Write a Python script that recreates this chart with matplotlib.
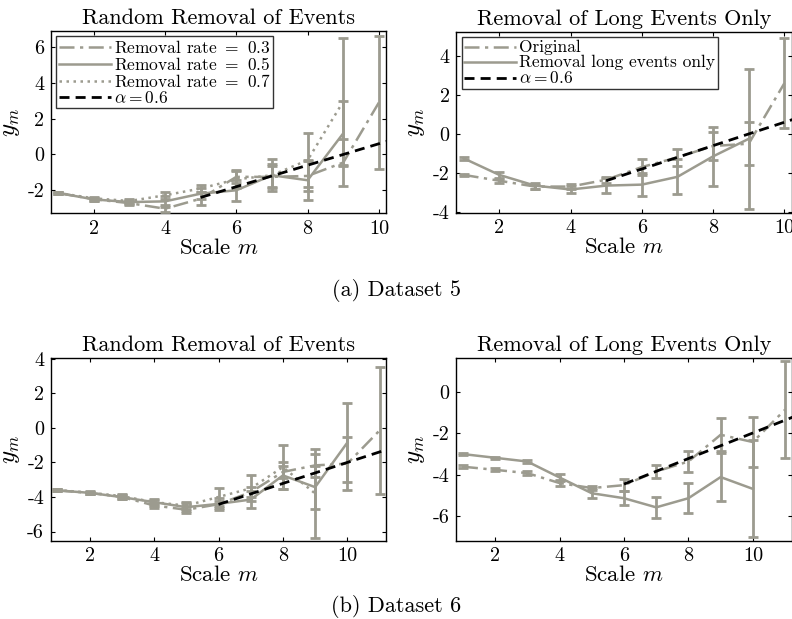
import matplotlib
matplotlib.use("Agg")
import matplotlib.pyplot as plt
import numpy as np

plt.rcParams['font.family'] = ['cmr10', 'DejaVu Serif']
plt.rcParams['mathtext.fontset'] = 'cm'
plt.rcParams['axes.unicode_minus'] = False
plt.rcParams['axes.formatter.use_mathtext'] = False

GRAY = '#9c9b8f'

# ---------------- Dataset 5, random removal ----------------
d5r_x03 = [1, 2, 3, 4, 5, 6, 7, 8, 9, 10]
d5r_y03 = [-2.15, -2.5, -2.72, -3.03, -2.47, -1.25, -1.25, -1.2, -0.45, 2.9]
d5r_e03 = [0.07, 0.08, 0.1, 0.2, 0.35, 0.35, 0.6, 0.85, 1.3, 3.7]
d5r_x05 = [1, 2, 3, 4, 5, 6, 7, 8, 9]
d5r_y05 = [-2.15, -2.51, -2.66, -2.62, -2.19, -2.0, -1.16, -1.44, 1.18]
d5r_e05 = [0.07, 0.08, 0.1, 0.3, 0.3, 0.6, 0.65, 1.13, 1.82]
d5r_x07 = [1, 2, 3, 4, 5, 6, 7, 8, 9]
d5r_y07 = [-2.15, -2.45, -2.6, -2.28, -1.9, -1.39, -1.16, -0.32, 2.96]
d5r_e07 = [0.07, 0.08, 0.1, 0.2, 0.2, 0.5, 0.9, 1.5, 3.56]
d5r_fit_x = [5, 10.3]
d5r_fit_y = [-2.4, 0.78]

# ---------------- Dataset 5, long events ----------------
d5l_x_orig = [1, 2, 3, 4, 5, 6, 7, 8, 9, 10]
d5l_y_orig = [-2.1, -2.4, -2.7, -2.7, -2.35, -1.7, -1.2, -0.62, -0.5, 2.6]
d5l_e_orig = [0.07, 0.1, 0.1, 0.15, 0.15, 0.4, 0.45, 0.7, 1.1, 2.3]
d5l_x_long = [1, 2, 3, 4, 5, 6, 7, 8, 9]
d5l_y_long = [-1.25, -2.1, -2.65, -2.85, -2.65, -2.6, -2.2, -1.15, -0.25]
d5l_e_long = [0.07, 0.15, 0.15, 0.2, 0.4, 0.6, 0.9, 1.5, 3.6]
d5l_fit_x = [5, 10.3]
d5l_fit_y = [-2.4, 0.78]

# ---------------- Dataset 6, random removal ----------------
d6r_x03 = [1, 2, 3, 4, 5, 6, 7, 8, 9, 10, 11]
d6r_y03 = [-3.62, -3.76, -4.0, -4.49, -4.74, -4.42, -3.72, -2.55, -2.17, -2.07, -0.15]
d6r_e03 = [0.06, 0.07, 0.1, 0.15, 0.2, 0.2, 0.3, 0.35, 0.65, 1.55, 3.7]
d6r_x05 = [1, 2, 3, 4, 5, 6, 7, 8, 9, 10]
d6r_y05 = [-3.62, -3.76, -4.01, -4.3, -4.59, -4.4, -4.15, -2.75, -3.43, -0.85]
d6r_e05 = [0.06, 0.07, 0.1, 0.2, 0.25, 0.35, 0.5, 0.77, 1.25, 2.3]
d6r_x07 = [1, 2, 3, 4, 5, 6, 7, 8, 9]
d6r_y07 = [-3.6, -3.75, -3.95, -4.3, -4.5, -4.0, -3.5, -2.27, -3.8]
d6r_e07 = [0.06, 0.07, 0.1, 0.15, 0.2, 0.5, 0.75, 1.27, 2.55]
d6r_fit_x = [6, 11.3]
d6r_fit_y = [-4.43, -1.21]

# ---------------- Dataset 6, long events ----------------
d6l_x_orig = [1, 2, 3, 4, 5, 6, 7, 8, 9, 10, 11]
d6l_y_orig = [-3.61, -3.76, -3.92, -4.4, -4.64, -4.5, -3.84, -3.36, -2.07, -2.42, -0.86]
d6l_e_orig = [0.06, 0.07, 0.08, 0.15, 0.1, 0.3, 0.32, 0.5, 0.8, 1.2, 2.33]
d6l_x_long = [1, 2, 3, 4, 5, 6, 7, 8, 9, 10]
d6l_y_long = [-3.0, -3.18, -3.36, -4.13, -4.89, -5.13, -5.57, -5.13, -4.11, -4.68]
d6l_e_long = [0.05, 0.05, 0.08, 0.15, 0.25, 0.35, 0.5, 0.72, 1.15, 2.34]
d6l_fit_x = [6, 11.3]
d6l_fit_y = [-4.45, -1.18]

titles = ['Random Removal of Events', 'Removal of Long Events Only']
xticks5 = [2, 4, 6, 8, 10]
captions = ['(a) Dataset 5', '(b) Dataset 6']

DASHDOT = (0, (6, 2.2, 1.3, 2.2))
DOT = (0, (1, 1.8))
DASH = (0, (3.6, 2.2))

fig = plt.figure(figsize=(7.92, 6.19), dpi=100)

W = 335 / 792
H = 182 / 619
ax_tl = fig.add_axes([51 / 792, (619 - 213) / 619, W, H])
ax_tr = fig.add_axes([456.5 / 792, (619 - 212.5) / 619, W, (212.5 - 32) / 619])
ax_bl = fig.add_axes([51 / 792, (619 - 540.5) / 619, W, (540.5 - 358.3) / 619])
ax_br = fig.add_axes([456.5 / 792, (619 - 540.5) / 619, W, (540.5 - 358.3) / 619])


def eb(ax, x, y, e, ls, label, z=3):
    line, caps, bars = ax.errorbar(x, y, yerr=e, color=GRAY, linestyle=ls, lw=1.8,
                                   elinewidth=2.0, capsize=3.5, capthick=2.0, zorder=z)
    line.set_label(label)
    return line


def style(ax, xlim, ylim, yticks, title):
    ax.set_xlim(*xlim)
    ax.set_ylim(*ylim)
    ax.set_xticks(xticks5)
    ax.set_yticks(yticks)
    ax.tick_params(direction='in', top=True, right=True, length=3, width=0.8,
                   labelsize=14.5, pad=5)
    for s in ax.spines.values():
        s.set_linewidth(1.0)
        s.set_color('black')
    ax.set_title(title, fontsize=16, pad=5)
    ax.set_xlabel('Scale $m$', fontsize=16.5, labelpad=0)
    ax.set_ylabel('$y_m$', fontsize=18, labelpad=4)


def fitline(ax, x, y, label):
    ax.plot(x, y, color='black', linestyle=DASH, lw=2.0, label=label, zorder=5)


# Top-left
eb(ax_tl, d5r_x03, d5r_y03, d5r_e03, DASHDOT, 'Removal rate $=$ 0.3')
eb(ax_tl, d5r_x05, d5r_y05, d5r_e05, '-', 'Removal rate $=$ 0.5')
eb(ax_tl, d5r_x07, d5r_y07, d5r_e07, DOT, 'Removal rate $=$ 0.7')
fitline(ax_tl, d5r_fit_x, d5r_fit_y, r'$\alpha = 0.6$')
style(ax_tl, (0.8, 10.2), (-3.27, 6.9), [-2, 0, 2, 4, 6], titles[0])

# Top-right
eb(ax_tr, d5l_x_orig, d5l_y_orig, d5l_e_orig, DASHDOT, 'Original')
eb(ax_tr, d5l_x_long, d5l_y_long, d5l_e_long, '-', 'Removal long events only')
fitline(ax_tr, d5l_fit_x, d5l_fit_y, r'$\alpha = 0.6$')
style(ax_tr, (0.8, 10.2), (-4.03, 5.23), [-4, -2, 0, 2, 4], titles[1])

# Bottom-left
eb(ax_bl, d6r_x03, d6r_y03, d6r_e03, DASHDOT, 'Removal rate $=$ 0.3')
eb(ax_bl, d6r_x05, d6r_y05, d6r_e05, '-', 'Removal rate $=$ 0.5')
eb(ax_bl, d6r_x07, d6r_y07, d6r_e07, DOT, 'Removal rate $=$ 0.7')
fitline(ax_bl, d6r_fit_x, d6r_fit_y, r'$\alpha = 0.6$')
style(ax_bl, (0.8, 11.2), (-6.52, 4.03), [-6, -4, -2, 0, 2, 4], titles[0])

# Bottom-right
eb(ax_br, d6l_x_orig, d6l_y_orig, d6l_e_orig, DASHDOT, 'Original')
eb(ax_br, d6l_x_long, d6l_y_long, d6l_e_long, '-', 'Removal long events only')
fitline(ax_br, d6l_fit_x, d6l_fit_y, r'$\alpha = 0.6$')
style(ax_br, (0.8, 11.2), (-7.17, 1.62), [-6, -4, -2, 0], titles[1])

for ax in (ax_tl, ax_tr):
    leg = ax.legend(loc='upper left', fontsize=12.5, frameon=True, fancybox=False,
                    borderpad=0.15, labelspacing=0.0, handlelength=3.0,
                    handleheight=0.5, handletextpad=0.15, borderaxespad=0.3)
    leg.get_frame().set_edgecolor('black')
    leg.get_frame().set_linewidth(1.0)

fig.text(396 / 792, 1 - 291 / 619, captions[0], ha='center', va='center', fontsize=16)
fig.text(396 / 792, 1 - 606 / 619, captions[1], ha='center', va='center', fontsize=16)

fig.savefig('out.png', dpi=100)
